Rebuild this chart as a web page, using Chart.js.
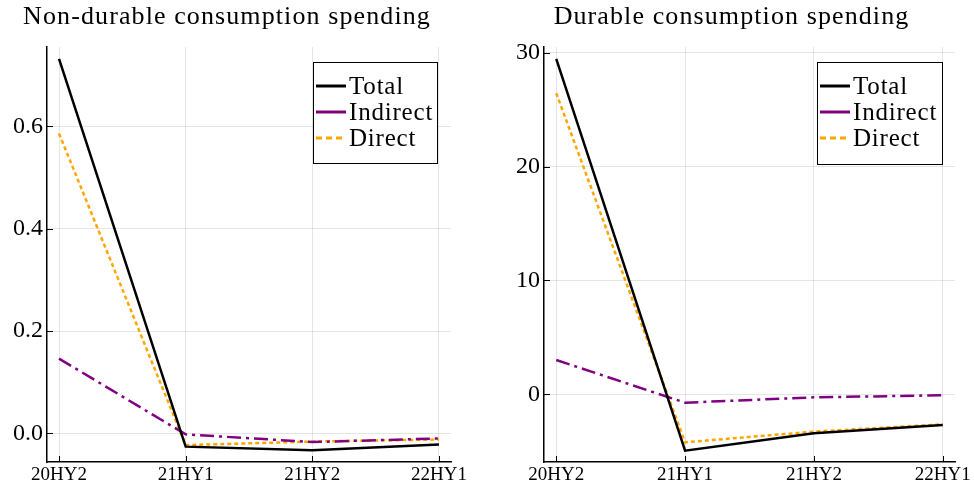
<!DOCTYPE html>
<html>
<head>
<meta charset="utf-8">
<script src="https://cdn.jsdelivr.net/npm/chart.js@4.4.0/dist/chart.umd.min.js"></script>
<style>
  html, body { margin: 0; padding: 0; background: #fff; }
  .panel { position: absolute; top: 0; width: 487px; height: 492px; }
  #leftBox { left: 0; }
  #rightBox { left: 487px; }
</style>
</head>
<body>
<div class="panel" id="leftBox"><canvas id="nonDurable"></canvas></div>
<div class="panel" id="rightBox"><canvas id="durable"></canvas></div>
<script>
const periods = ["20HY2", "21HY1", "21HY2", "22HY1"];

// non-durable consumption
const ndTotal = [0.732, -0.026, -0.033, -0.022];
const ndIndirect = [0.146, -0.002, -0.017, -0.010];
const ndDirect = [0.586, -0.023, -0.016, -0.012];
const ndTicks = [0.0, 0.2, 0.4, 0.6];

// durable consumption
const dTotal = [29.46, -4.95, -3.43, -2.70];
const dIndirect = [3.01, -0.74, -0.27, -0.09];
const dDirect = [26.45, -4.22, -3.28, -2.64];
const dTicks = [0, 10, 20, 30];

const serif = "'Liberation Serif', 'DejaVu Serif', serif";

const toPoints = (arr) => arr.map((v, i) => ({ x: i, y: v }));

// plots.jl style: ticks pointing inside the plot
const innerTicks = {
  id: "innerTicks",
  afterDraw(chart) {
    const ctx = chart.ctx;
    const area = chart.chartArea;
    const xs = chart.scales.x;
    const ys = chart.scales.y;
    ctx.save();
    ctx.strokeStyle = "#000";
    ctx.lineWidth = 1;
    xs.ticks.forEach((t) => {
      const px = Math.round(xs.getPixelForValue(t.value)) + 0.5;
      ctx.beginPath();
      ctx.moveTo(px, area.bottom);
      ctx.lineTo(px, area.bottom - 6);
      ctx.stroke();
    });
    ys.ticks.forEach((t) => {
      const py = Math.round(ys.getPixelForValue(t.value)) + 0.5;
      ctx.beginPath();
      ctx.moveTo(area.left, py);
      ctx.lineTo(area.left + 6, py);
      ctx.stroke();
    });
    ctx.restore();
  },
};

// boxed legend in the top right corner + title
const boxLegend = {
  id: "boxLegend",
  afterDraw(chart, args, opts) {
    const ctx = chart.ctx;
    ctx.save();
    // title
    ctx.fillStyle = "#000";
    ctx.font = "26px " + serif;
    ctx.letterSpacing = "1.1px";
    ctx.textAlign = "center";
    ctx.textBaseline = "alphabetic";
    ctx.fillText(opts.title, opts.titleX, 24);

    const bx = opts.x, by = opts.y, bw = opts.w, bh = opts.h;
    ctx.fillStyle = "#fff";
    ctx.fillRect(bx, by, bw, bh);
    ctx.strokeStyle = "#000";
    ctx.lineWidth = 1;
    ctx.strokeRect(bx + 0.5, by + 0.5, bw, bh);

    ctx.font = "25px " + serif;
    ctx.letterSpacing = "0.8px";
    ctx.textAlign = "left";
    ctx.textBaseline = "middle";
    chart.data.datasets.forEach((ds, i) => {
      const ly = by + 24 + i * 26;
      ctx.strokeStyle = ds.borderColor;
      ctx.lineWidth = 3;
      ctx.setLineDash(ds.legendDash || []);
      ctx.beginPath();
      ctx.moveTo(bx + 3, ly);
      ctx.lineTo(bx + 33, ly);
      ctx.stroke();
      ctx.setLineDash([]);
      ctx.fillStyle = "#000";
      ctx.fillText(ds.label, bx + 36, ly + 1);
    });
    ctx.restore();
  },
};

function makeChart(id, total, indirect, direct, yTicks, yMin, yMax, leftW, rightPad, legendPos, title, titleX, tickFmt) {
  const config = {
    type: "line",
    data: {
      datasets: [
        {
          label: "Total",
          data: toPoints(total),
          borderColor: "#000000",
          borderWidth: 2.5,
          pointRadius: 0,
          tension: 0,
        },
        {
          label: "Indirect",
          data: toPoints(indirect),
          borderColor: "#800080",
          borderWidth: 2.5,
          borderDash: [14, 5, 3, 5],
          pointRadius: 0,
          tension: 0,
        },
        {
          label: "Direct",
          data: toPoints(direct),
          borderColor: "#FFA500",
          borderWidth: 2.5,
          borderDash: [4, 3],
          legendDash: [6, 4],
          pointRadius: 0,
          tension: 0,
        },
      ],
    },
    options: {
      responsive: false,
      animation: false,
      layout: {
        padding: { top: 47, right: rightPad, bottom: 0, left: 0 },
      },
      scales: {
        x: {
          type: "linear",
          min: -0.095,
          max: 3.095,
          afterBuildTicks: (s) => {
            s.ticks = periods.map((p, i) => ({ value: i }));
          },
          afterFit: (s) => {
            s.height = 30;
          },
          ticks: {
            callback: (v) => periods[v],
            font: { family: serif, size: 19 },
            color: "#000",
            maxRotation: 0,
            autoSkip: false,
            padding: 2,
          },
          grid: {
            color: "rgba(0,0,0,0.1)",
            drawTicks: false,
          },
          border: { display: true, color: "#000", width: 1.5 },
        },
        y: {
          min: yMin,
          max: yMax,
          afterBuildTicks: (s) => {
            s.ticks = yTicks.map((v) => ({ value: v }));
          },
          afterFit: (s) => {
            s.width = leftW;
          },
          ticks: {
            callback: tickFmt,
            font: { family: serif, size: 24 },
            color: "#000",
            padding: 4,
          },
          grid: {
            color: "rgba(0,0,0,0.1)",
            drawTicks: false,
          },
          border: { display: true, color: "#000", width: 1.5 },
        },
      },
      plugins: {
        legend: { display: false },
        tooltip: { enabled: false },
        boxLegend: {
          title: title,
          titleX: titleX,
          x: legendPos[0],
          y: legendPos[1],
          w: legendPos[2],
          h: legendPos[3],
        },
      },
    },
    plugins: [innerTicks, boxLegend],
  };
  const canvas = document.getElementById(id);
  canvas.width = 487;
  canvas.height = 492;
  return new Chart(canvas, config);
}

makeChart("nonDurable", ndTotal, ndIndirect, ndDirect, ndTicks, -0.056, 0.755, 47, 36,
  [313, 62, 124, 101], "Non-durable consumption spending", 227, (v) => v.toFixed(1));
makeChart("durable", dTotal, dIndirect, dDirect, dTicks, -5.95, 30.5, 57, 19,
  [330, 62, 125, 102], "Durable consumption spending", 244.5, (v) => String(v));
</script>
</body>
</html>
